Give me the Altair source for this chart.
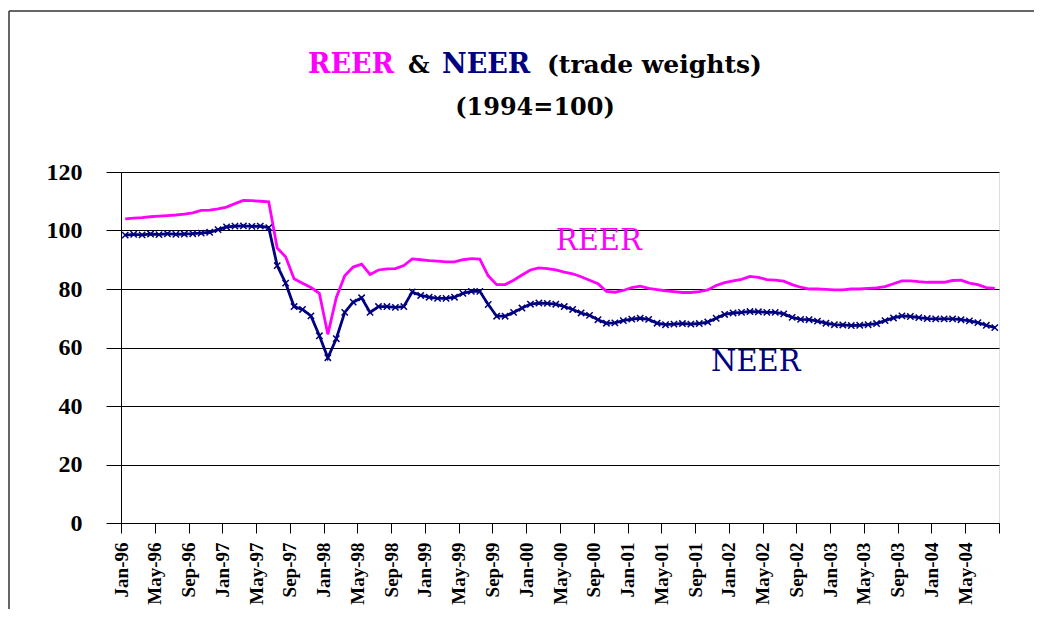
import json
import altair as alt
import pandas as pd

# Monthly index values, Jan-96 .. Aug-04 (1994 = 100)
reer = [104.0, 104.2, 104.4, 104.7, 104.9, 105.1, 105.3, 105.6, 106.0, 106.9,
        107.0, 107.4, 108.0, 109.2, 110.3, 110.2, 110.0, 109.8, 94.0, 91.0,
        83.5, 82.0, 80.5, 78.5, 64.5, 77.0, 84.5, 87.5, 88.5, 85.0,
        86.5, 86.9, 87.0, 88.0, 90.3, 90.0, 89.7, 89.5, 89.3, 89.3,
        90.0, 90.4, 90.2, 84.5, 81.5, 81.5, 83.0, 84.8, 86.5, 87.2,
        87.0, 86.5, 85.8, 85.2, 84.2, 83.0, 81.8, 79.2, 78.9, 79.5,
        80.5, 81.0, 80.2, 79.8, 79.4, 79.1, 78.8, 78.8, 79.1, 79.7,
        81.2, 82.2, 82.8, 83.3, 84.3, 84.0, 83.2, 83.0, 82.7, 81.5,
        80.6, 80.0, 80.0, 79.9, 79.7, 79.7, 80.0, 80.0, 80.2, 80.4,
        80.8, 81.8, 82.8, 82.8, 82.5, 82.3, 82.3, 82.3, 82.9, 83.0,
        82.0, 81.5, 80.5, 80.2]
neer = [98.4, 98.7, 98.5, 98.8, 98.6, 98.9, 98.7, 98.8, 98.9, 99.1,
        99.4, 100.3, 101.2, 101.5, 101.6, 101.4, 101.5, 101.0, 88.0, 82.0,
        74.0, 73.0, 70.8, 64.0, 56.5, 63.0, 72.0, 75.5, 77.0, 72.0,
        74.0, 74.0, 73.7, 74.0, 79.0, 77.8, 77.2, 76.8, 76.8, 77.2,
        78.5, 79.2, 79.2, 74.7, 70.7, 70.7, 72.0, 73.5, 74.8, 75.2,
        75.1, 74.8, 74.0, 73.0, 71.8, 71.0, 69.5, 68.3, 68.4, 69.2,
        69.7, 70.0, 69.6, 68.3, 67.8, 68.0, 68.2, 68.0, 68.2, 68.7,
        70.0, 71.3, 71.8, 72.0, 72.3, 72.2, 72.0, 72.0, 71.5, 70.3,
        69.6, 69.5, 69.0, 68.3, 67.8, 67.7, 67.5, 67.6, 67.8, 68.2,
        69.2, 70.1, 70.8, 70.6, 70.2, 69.9, 69.8, 69.8, 69.8, 69.5,
        69.1, 68.5, 67.6, 66.8]
tick_labels = ["Jan-96", "May-96", "Sep-96", "Jan-97", "May-97", "Sep-97",
               "Jan-98", "May-98", "Sep-98", "Jan-99", "May-99", "Sep-99",
               "Jan-00", "May-00", "Sep-00", "Jan-01", "May-01", "Sep-01",
               "Jan-02", "May-02", "Sep-02", "Jan-03", "May-03", "Sep-03",
               "Jan-04", "May-04"]
y_ticks = [0, 20, 40, 60, 80, 100, 120]
series_labels = ["REER", "NEER"]
label_anchor_x = [56.6, 75.2]
label_anchor_y = [96.3, 55.2]

MAGENTA = "#FF00FF"
NAVY = "#000080"
SERIF = "Liberation Serif, Times New Roman, serif"
WIDE_SERIF = "DejaVu Serif, serif"
W, H = 878, 351
n = len(reer)

df = pd.DataFrame({"idx": list(range(n)), "REER": reer, "NEER": neer})
lab_df = pd.DataFrame({"name": series_labels, "lx": label_anchor_x, "ly": label_anchor_y})

label_expr = ("datum.value <= 100 ? " + json.dumps(tick_labels) +
              "[round(datum.value / 4)] : ''")

x_scale = alt.Scale(domain=[0, n], nice=False, zero=False)
x_axis = alt.Axis(values=list(range(0, n + 1, 4)), labelExpr=label_expr,
                  labelAngle=270, grid=False, tickSize=10, labelPadding=9,
                  labelOverlap=False, labelBound=False, labelFlush=False,
                  labelFont=SERIF, labelFontSize=19,
                  labelFontWeight="bold", labelColor="black",
                  domainColor="black", tickColor="black", title=None)
y_scale = alt.Scale(domain=[0, 120], nice=False)
y_axis = alt.Axis(values=y_ticks, grid=True, gridColor="black", gridWidth=1.2,
                  tickSize=15, tickColor="black", domainColor="black",
                  labelPadding=24, labelFont=SERIF, labelFontSize=24,
                  labelFontWeight="bold", labelColor="black", title=None)

base = alt.Chart(df).transform_calculate(pos="datum.idx + 0.5")

reer_line = base.mark_line(color=MAGENTA, strokeWidth=2.8).encode(
    x=alt.X("pos:Q", scale=x_scale, axis=x_axis),
    y=alt.Y("REER:Q", scale=y_scale, axis=y_axis))
neer_line = base.mark_line(color=NAVY, strokeWidth=2.8).encode(
    x=alt.X("pos:Q", scale=x_scale, axis=x_axis),
    y=alt.Y("NEER:Q", scale=y_scale, axis=y_axis))
neer_pts = base.mark_point(shape="M-1,-1L1,1M1,-1L-1,1", size=40, filled=False,
                           color=NAVY, strokeWidth=1.5, opacity=1).encode(
    x=alt.X("pos:Q", scale=x_scale, axis=x_axis),
    y=alt.Y("NEER:Q", scale=y_scale, axis=y_axis))

series_text = alt.Chart(lab_df).mark_text(font=WIDE_SERIF, fontSize=29,
                                          align="center", baseline="middle").encode(
    x=alt.X("lx:Q", scale=x_scale, axis=x_axis),
    y=alt.Y("ly:Q", scale=y_scale, axis=y_axis),
    text="name:N",
    color=alt.Color("name:N", scale=alt.Scale(domain=series_labels, range=[MAGENTA, NAVY]),
                    legend=None))


def title_piece(txt, color, x, y, size=26, align="left"):
    return alt.Chart(pd.DataFrame({"t": [txt]})).mark_text(
        font=WIDE_SERIF, fontSize=size, fontWeight="bold", color=color,
        align=align, baseline="alphabetic").encode(
        x=alt.value(x), y=alt.value(y), text="t:N")


titles = (title_piece("REER", MAGENTA, 187, -99, size=27)
          + title_piece("&", "black", 287, -99, size=24)
          + title_piece("NEER", NAVY, 321, -99, size=27)
          + title_piece("(trade weights)", "black", 426, -99, size=25)
          + title_piece("(1994=100)", "black", 414, -57, size=24, align="center"))

frame = (alt.Chart(pd.DataFrame({"a": [0]})).mark_rule(color="#333333", strokeWidth=1.5)
         .encode(x=alt.value(-112), x2=alt.value(-112), y=alt.value(-161), y2=alt.value(460))
         + alt.Chart(pd.DataFrame({"a": [0]})).mark_rule(color="#333333", strokeWidth=1.5)
         .encode(x=alt.value(-112), x2=alt.value(940), y=alt.value(-161), y2=alt.value(-161)))

chart = alt.layer(reer_line, neer_line, neer_pts, series_text, titles, frame).properties(
    width=W, height=H,
    autosize=alt.AutoSizeParams(type="none"),
    padding={"left": 113, "top": 164, "right": 35, "bottom": 86},
).configure_view(stroke=None).configure_axisX(labelOverlap=False).configure(background="white")

chart.save("out.html", embed_options={"renderer": "svg", "actions": False})
